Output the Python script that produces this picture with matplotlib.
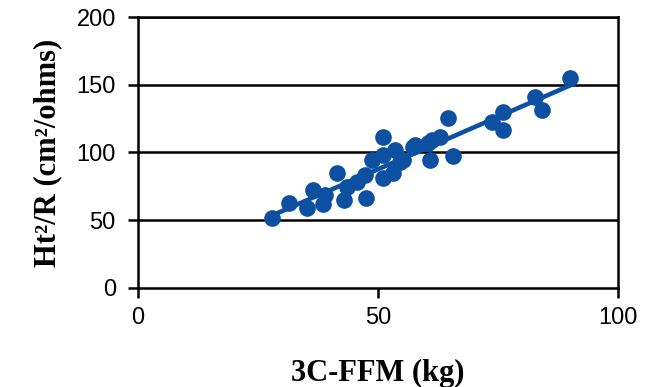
import numpy as np
import matplotlib.pyplot as plt

# 3C-FFM (kg) vs Ht^2/R (cm^2/ohms)
ffm = [27.9, 31.5, 35.2, 36.5, 38.5, 39.0, 41.5, 42.9, 43.5, 45.6,
       47.3, 47.5, 48.8, 51.0, 51.0, 51.0, 53.1, 53.5, 54.6, 55.2,
       57.3, 57.7, 60.4, 60.8, 61.3, 62.9, 64.6, 65.6, 73.8, 76.0,
       76.0, 82.7, 84.2, 90.0]
ht2r = [51.7, 62.7, 59.0, 72.3, 62.0, 68.6, 84.9, 64.9, 74.5, 78.2,
        83.4, 66.4, 94.5, 111.4, 98.2, 81.2, 84.9, 101.8, 93.0, 94.5,
        104.1, 105.5, 107.0, 94.5, 109.2, 111.4, 125.5, 97.4, 122.5, 129.9,
        116.6, 141.0, 131.4, 155.0]
xticks = [0, 50, 100]
yticks = [0, 50, 100, 150, 200]

blue = '#0D50A2'

fig = plt.figure(figsize=(6.51, 3.87), dpi=100)
ax = fig.add_axes([0.212, 0.256, 0.737, 0.70])

x = np.array(ffm)
y = np.array(ht2r)
b, a = np.polyfit(x, y, 1)  # regression line
xl = np.array([x.min(), x.max()])
ax.plot(xl, a + b * xl, color=blue, lw=3.3, zorder=3)
ax.plot(x, y, 'o', color=blue, markersize=12, markeredgewidth=0, zorder=4)

ax.set_xlim(0, 100)
ax.set_ylim(0, 200)
ax.set_xticks(xticks)
ax.set_yticks(yticks)
for yv in yticks[1:]:
    ax.axhline(yv, color='black', lw=1.8, zorder=1)

for s in ax.spines.values():
    s.set_linewidth(1.8)
ax.tick_params(direction='out', length=7, width=1.8, labelsize=17)
ax.tick_params(axis='y', pad=9)
ax.tick_params(axis='x', pad=7)
for lab in ax.get_xticklabels() + ax.get_yticklabels():
    lab.set_fontfamily('Liberation Sans')

ax.set_xlabel('3C-FFM (kg)', fontfamily='Liberation Serif', fontweight='bold',
              fontsize=22, labelpad=21)
ax.set_ylabel('Ht²/R (cm²/ohms)', fontfamily='Liberation Serif',
              fontweight='bold', fontsize=22, labelpad=10)

fig.savefig('out.png', dpi=100)
